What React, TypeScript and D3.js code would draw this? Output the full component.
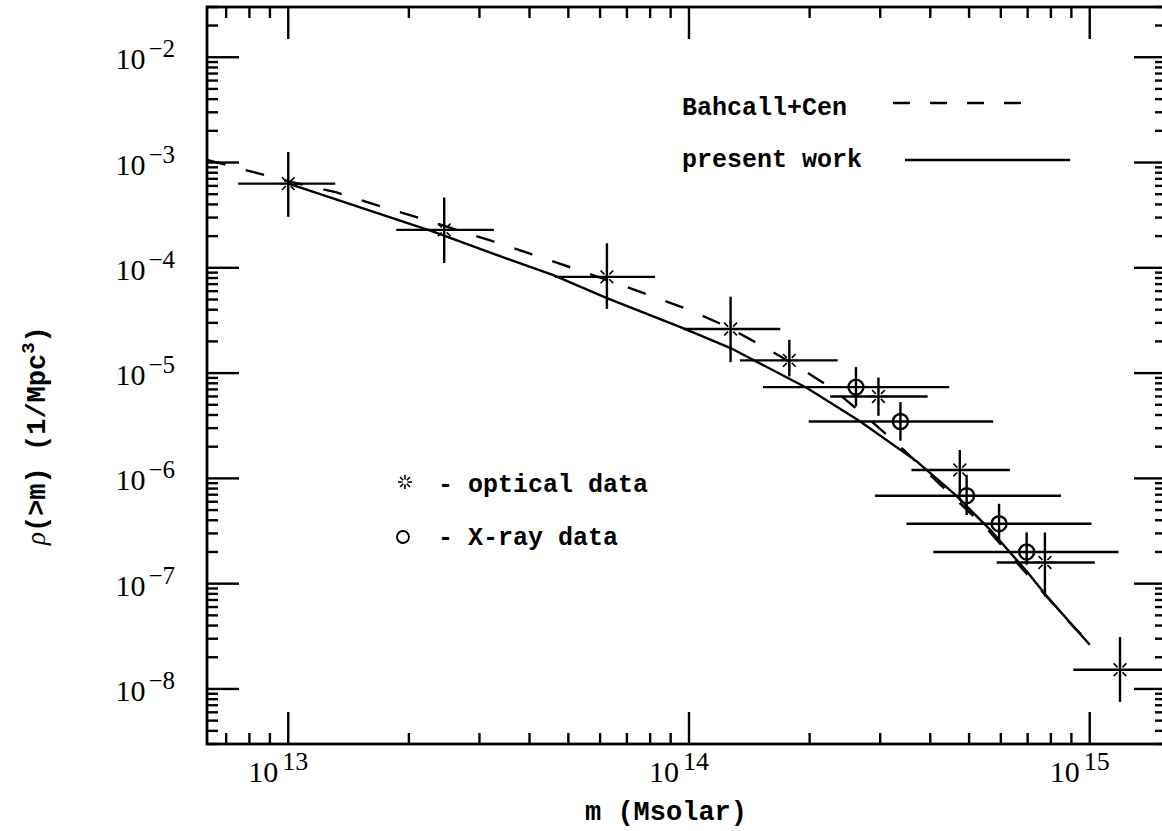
import React, { useEffect, useRef } from "react";
import * as d3 from "d3";

// axis ranges (mass in Msolar, density in 1/Mpc^3)
const massDomain = [6.27e12, 1.55e15];
const rhoDomain = [3.0e-9, 3.0e-2];
const xLabelExps = [13, 14, 15];
const yLabelExps = [-2, -3, -4, -5, -6, -7, -8];

// optical data (asterisks)
const optMass = [1.0e13, 2.45e13, 6.24e13, 1.27e14, 1.78e14, 2.97e14, 4.74e14, 7.73e14, 1.19e15];
const optRho = [6.3e-4, 2.29e-4, 8.2e-5, 2.62e-5, 1.32e-5, 6.0e-6, 1.2e-6, 1.59e-7, 1.52e-8];
const optMassLo = [7.5e12, 1.86e13, 4.63e13, 9.68e13, 1.34e14, 2.25e14, 3.59e14, 5.86e14, 9.1e14];
const optMassHi = [1.31e13, 3.26e13, 8.23e13, 1.69e14, 2.35e14, 3.94e14, 6.32e14, 1.03e15, 1.56e15];
const optRhoLo = [3.05e-4, 1.11e-4, 4.07e-5, 1.27e-5, 9.29e-6, 3.93e-6, 7.26e-7, 7.55e-8, 7.52e-9];
const optRhoHi = [1.26e-3, 4.65e-4, 1.71e-4, 5.32e-5, 2.07e-5, 9.08e-6, 1.86e-6, 3.06e-7, 3.11e-8];

// X-ray data (circles)
const xrayMass = [2.61e14, 3.37e14, 4.93e14, 5.94e14, 6.96e14];
const xrayRho = [7.36e-6, 3.47e-6, 6.85e-7, 3.71e-7, 2.0e-7];
const xrayMassLo = [1.53e14, 1.99e14, 2.91e14, 3.49e14, 4.07e14];
const xrayMassHi = [4.46e14, 5.74e14, 8.48e14, 1.01e15, 1.18e15];
const xrayRhoLo = [4.82e-6, 2.28e-6, 4.49e-7, 2.43e-7, 1.51e-7];
const xrayRhoHi = [1.14e-5, 5.3e-6, 1.08e-6, 5.74e-7, 3.07e-7];

// Bahcall+Cen (dashed)
const bcMass = [6.27e12, 9.93e12, 1.32e13, 1.64e13, 2.06e13, 3.22e13, 4.06e13, 5.11e13, 6.43e13, 8.0e13,
  1.0e14, 1.24e14, 1.54e14, 1.88e14, 2.28e14, 2.75e14, 3.3e14, 5.57e14, 9.08e14, 9.95e14];
const bcRho = [1.06e-3, 6.68e-4, 5.2e-4, 4.0e-4, 3.08e-4, 1.8e-4, 1.34e-4, 9.98e-5, 7.35e-5, 5.47e-5,
  3.99e-5, 2.78e-5, 1.77e-5, 1.14e-5, 7.1e-6, 3.93e-6, 2.15e-6, 3.25e-7, 3.94e-8, 2.81e-8];

// present work (solid)
const pwMass = [9.93e12, 2.3e13, 3.13e13, 4.57e13, 6.24e13, 9.66e13, 1.27e14, 1.97e14, 2.67e14, 3.7e14,
  4.57e14, 5.64e14, 7.01e14, 7.82e14, 1.0e15];
const pwRho = [6.37e-4, 2.21e-4, 1.43e-4, 8.57e-5, 5.15e-5, 2.67e-5, 1.73e-5, 7.21e-6, 3.48e-6, 1.45e-6,
  7.26e-7, 3.26e-7, 1.27e-7, 7.57e-8, 2.63e-8];

const W = 1162;
const H = 831;
const frame = { left: 207, top: 7, right: 1166, bottom: 744 };
const serif = "'Liberation Serif', 'Times New Roman', serif";
const mono = "'Liberation Mono', 'Courier New', monospace";

const App = () => {
  const svgRef = useRef(null);

  useEffect(() => {
    const svg = d3.select(svgRef.current);
    svg.selectAll("*").remove();

    const x = d3.scaleLog().domain(massDomain).range([frame.left, frame.right]);
    const y = d3.scaleLog().domain(rhoDomain).range([frame.bottom, frame.top]);
    const isMajor = (v) => Math.abs(Math.log10(v) - Math.round(Math.log10(v))) < 1e-6;

    svg.append("rect").attr("width", W).attr("height", H).attr("fill", "#fff");

    // frame + ticks
    const axes = svg.append("g").attr("stroke", "#000").attr("stroke-width", 2.4).attr("fill", "none");
    axes
      .append("rect")
      .attr("x", frame.left)
      .attr("y", frame.top)
      .attr("width", frame.right - frame.left)
      .attr("height", frame.bottom - frame.top)
      .attr("stroke-width", 2.8);

    x.ticks().forEach((v) => {
      const len = isMajor(v) ? 32 : 11;
      axes.append("line").attr("x1", x(v)).attr("x2", x(v)).attr("y1", frame.bottom).attr("y2", frame.bottom - len);
      axes.append("line").attr("x1", x(v)).attr("x2", x(v)).attr("y1", frame.top).attr("y2", frame.top + len);
    });
    y.ticks().forEach((v) => {
      const len = isMajor(v) ? 32 : 11;
      axes.append("line").attr("y1", y(v)).attr("y2", y(v)).attr("x1", frame.left).attr("x2", frame.left + len);
      axes.append("line").attr("y1", y(v)).attr("y2", y(v)).attr("x1", frame.right).attr("x2", frame.right - len);
    });

    // tick labels
    const xl = svg.append("g").attr("font-family", serif).attr("fill", "#000");
    xLabelExps.forEach((e) => {
      const t = xl
        .append("text")
        .attr("x", x(Math.pow(10, e)) + 20)
        .attr("y", frame.bottom + 38)
        .attr("text-anchor", "end")
        .attr("font-size", 30);
      t.append("tspan").text("10");
      t.append("tspan").attr("dx", 4).attr("dy", -12).attr("font-size", 26).text(String(e));
    });
    yLabelExps.forEach((e) => {
      const t = xl
        .append("text")
        .attr("x", frame.left - 32)
        .attr("y", y(Math.pow(10, e)) + 12)
        .attr("text-anchor", "end")
        .attr("font-size", 30);
      t.append("tspan").text("10");
      t.append("tspan").attr("dx", 3).attr("dy", -12).attr("font-size", 25).text("\u2212" + Math.abs(e));
    });

    // axis titles
    svg
      .append("text")
      .attr("x", 666)
      .attr("y", 820)
      .attr("text-anchor", "middle")
      .attr("font-family", mono)
      .attr("font-weight", "bold")
      .attr("font-size", 27)
      .text("m (Msolar)");

    const yt = svg
      .append("text")
      .attr("transform", "translate(45,545) rotate(-90)")
      .attr("font-family", mono)
      .attr("font-weight", "bold")
      .attr("font-size", 27);
    yt.append("tspan").attr("font-family", serif).attr("font-style", "italic").attr("font-weight", "normal").text("\u03c1");
    yt.append("tspan").text("(>m) (1/Mpc");
    yt.append("tspan").attr("dy", -11).attr("font-size", 19).text("3");
    yt.append("tspan").attr("dy", 11).text(")");

    // curves
    const line = d3
      .line()
      .x((d) => x(d[0]))
      .y((d) => y(d[1]));
    svg
      .append("path")
      .attr("d", line(d3.zip(bcMass, bcRho)))
      .attr("fill", "none")
      .attr("stroke", "#000")
      .attr("stroke-width", 2.4)
      .attr("stroke-dasharray", "19 21");
    svg
      .append("path")
      .attr("d", line(d3.zip(pwMass, pwRho)))
      .attr("fill", "none")
      .attr("stroke", "#000")
      .attr("stroke-width", 2.4);

    const marks = svg.append("g").attr("stroke", "#000").attr("stroke-width", 2.4).attr("fill", "none");

    const star = (g, cx, cy, r0, r1) => {
      d3.range(8).forEach((i) => {
        const a = (i * Math.PI) / 4;
        g.append("line")
          .attr("x1", cx + r0 * Math.cos(a))
          .attr("y1", cy + r0 * Math.sin(a))
          .attr("x2", cx + r1 * Math.cos(a))
          .attr("y2", cy + r1 * Math.sin(a))
          .attr("stroke-width", 1.6);
      });
    };

    // optical points with error bars
    optMass.forEach((m, i) => {
      const cx = x(m);
      const cy = y(optRho[i]);
      marks.append("line").attr("x1", x(optMassLo[i])).attr("x2", x(optMassHi[i])).attr("y1", cy).attr("y2", cy);
      marks.append("line").attr("x1", cx).attr("x2", cx).attr("y1", y(optRhoLo[i])).attr("y2", y(optRhoHi[i]));
      star(marks, cx, cy, 3.5, 9);
    });

    // X-ray points with error bars
    xrayMass.forEach((m, i) => {
      const cx = x(m);
      const cy = y(xrayRho[i]);
      marks.append("line").attr("x1", x(xrayMassLo[i])).attr("x2", x(xrayMassHi[i])).attr("y1", cy).attr("y2", cy);
      marks.append("line").attr("x1", cx).attr("x2", cx).attr("y1", y(xrayRhoLo[i])).attr("y2", y(xrayRhoHi[i]));
      marks.append("circle").attr("cx", cx).attr("cy", cy).attr("r", 7.5);
    });

    // legends
    const leg = svg
      .append("g")
      .attr("font-family", mono)
      .attr("font-weight", "bold")
      .attr("font-size", 25)
      .attr("fill", "#000");
    leg.append("text").attr("x", 682).attr("y", 115).text("Bahcall+Cen");
    leg.append("text").attr("x", 682).attr("y", 167).text("present work");
    svg.append("line").attr("x1", 893).attr("x2", 1021).attr("y1", 103).attr("y2", 103)
      .attr("stroke", "#000").attr("stroke-width", 2.4).attr("stroke-dasharray", "17 20");
    svg.append("line").attr("x1", 905).attr("x2", 1070).attr("y1", 160).attr("y2", 160)
      .attr("stroke", "#000").attr("stroke-width", 2.4);

    const lg = svg.append("g").attr("stroke", "#000").attr("fill", "none").attr("stroke-width", 1.8);
    star(lg, 405, 482, 2.5, 7);
    lg.append("circle").attr("cx", 403).attr("cy", 537).attr("r", 6);
    leg.append("text").attr("x", 438).attr("y", 492).text("- optical data");
    leg.append("text").attr("x", 438).attr("y", 545).text("- X-ray data");
  }, []);

  return (
    <svg
      ref={svgRef}
      width={W}
      height={H}
      style={{ position: "absolute", left: 0, top: 0 }}
    ></svg>
  );
};

export default App;
